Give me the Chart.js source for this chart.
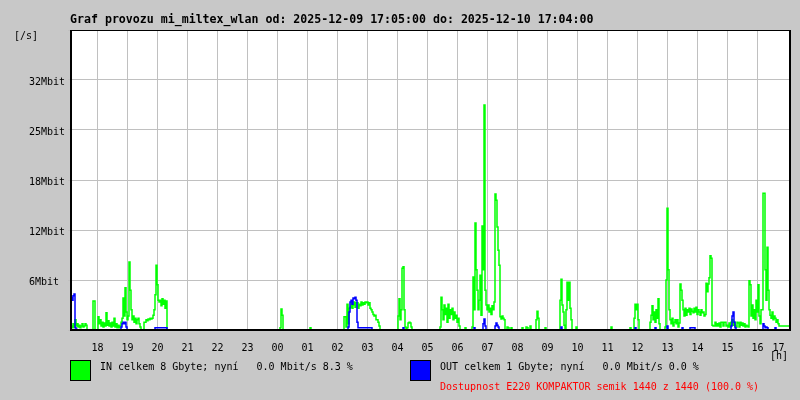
<!DOCTYPE html>
<html>
<head>
<meta charset="utf-8">
<title>Graf provozu mi_miltex_wlan</title>
<script src="https://cdn.jsdelivr.net/npm/chart.js@4.4.1/dist/chart.umd.min.js"></script>
<style>
  body { margin: 0; background: #c8c8c8; }
  canvas { display: block; }
</style>
</head>
<body>
<canvas id="chart" width="800" height="400"></canvas>
<script>
const graphTitle = 'Graf provozu mi_miltex_wlan od: 2025-12-09 17:05:00 do: 2025-12-10 17:04:00';

// x = minutes since 17:05, one sample per 2 minutes
const hourLabels = ['18', '19', '20', '21', '22', '23', '00', '01', '02', '03', '04', '05',
                    '06', '07', '08', '09', '10', '11', '12', '13', '14', '15', '16', '17'];
// last one is only a label (17:00 sits on the right border), pulled a bit left like the original
const hourTicks = [55, 115, 175, 235, 295, 355, 415, 475, 535, 595, 655, 715,
                   775, 835, 895, 955, 1015, 1075, 1135, 1195, 1255, 1315, 1375, 1417];

const yTickValues = [0, 6.4, 12.8, 19.2, 25.6, 32, 38.4];
const yTickLabels = ['', '6Mbit', '12Mbit', '18Mbit', '25Mbit', '32Mbit', ''];

// bursts of traffic: [start minute, Mbit/s every 2 minutes]; zero in between
const inBursts = [
  [0, [0.3, 0.5, 0.3, 0.8, 0.4, 1.3, 0.5, 0.8, 0.4, 0.6, 0.3, 0.5, 0.8, 0.4, 0.5, 0.8, 0.6]],
  [46, [3.7, 3.7]],
  [56, [1.7, 0.8, 1.3, 0.5, 1.0, 0.4, 0.9, 0.5, 2.2, 0.6, 1.2, 0.5, 0.9, 0.4, 1.0, 0.5, 1.5, 0.4, 0.8, 0.3, 0.6, 0.3,
        0.5, 1.0, 1.5, 4.1, 1.8, 5.4, 2.3, 1.3, 1.8, 8.7, 5.1, 2.6, 1.3, 1.8, 1.0, 1.5, 0.8, 1.3, 1.5, 0.8, 0.4]],
  [148, [1.0, 1.0, 1.3, 1.2, 1.4, 1.3, 1.5, 1.4, 1.5, 1.9, 2.6, 4.5, 8.3, 5.8, 3.8, 3.6, 3.8, 3.1, 4.0, 3.3, 3.8, 2.8, 3.7]],
  [420, [0.3, 2.7, 1.9]],
  [480, [0.3]],
  [548, [1.7, 1.7, 0.4, 3.3, 0.8, 2.8, 2.9, 3.5, 2.8, 3.2, 3.6, 2.9, 3.5, 3.5, 2.8, 3.3, 3.1, 3.6,
         3.2, 3.5, 3.3, 3.6, 3.5, 3.6, 3.2, 3.5, 2.8, 2.6, 2.3, 2.0, 1.8, 1.9, 1.3, 1.3, 1.0, 0.5]],
  [656, [1.8, 4.0, 1.3, 2.6, 7.9, 8.1, 2.6, 0.4, 0, 0.3, 0.9, 1.0, 0.9, 0.4]],
  [740, [0.4, 4.2, 2.6, 1.3, 3.2, 2.0, 2.8, 1.0, 3.3, 1.5, 2.6, 2.0, 2.8, 1.3, 2.3, 1.5, 1.9, 1.0, 1.5, 0.5]],
  [790, [0.3]],
  [804, [0.4, 6.8, 2.6, 13.7, 7.7, 5.1, 2.6, 3.8, 7.0, 1.9, 13.3, 7.7, 28.8, 5.1, 3.2, 2.6, 3.2,
         2.3, 2.8, 2.0, 3.1, 2.6, 3.6, 17.4, 16.6, 13.2, 10.2, 8.3, 1.7, 1.4, 1.8, 1.5, 1.3]],
  [874, [0.4, 0.3]],
  [882, [0.3]],
  [904, [0.3]],
  [912, [0.4, 0.3]],
  [920, [0.5]],
  [932, [1.3, 2.4, 1.5]],
  [950, [0.3]],
  [980, [3.8, 6.5, 3.2, 2.3, 0.6, 0, 2.6, 6.1, 3.8, 6.1, 2.8, 1.3]],
  [1012, [0.4]],
  [1082, [0.4]],
  [1120, [0.3]],
  [1128, [1.5, 3.3, 2.6, 3.3, 1.3]],
  [1160, [1.0, 1.9, 3.1, 1.3, 2.3, 1.0, 2.6, 1.5, 4.0, 0.8]],
  [1190, [0.4, 6.4, 15.6, 7.7, 2.6, 1.3, 0.8, 1.5, 0.5, 1.0, 1.3, 0.8, 1.3, 0.4, 0.9, 5.9, 5.1, 3.8, 2.6, 1.8,
          2.8, 1.9, 2.6, 2.3, 2.8, 2.0, 2.7, 2.4, 2.2, 2.8, 2.3, 2.9, 2.0, 2.6, 2.3, 1.9, 2.6, 2.2, 2.3, 1.8,
          2.0, 6.0, 4.9, 5.9, 6.7, 9.5, 9.2, 0.6, 0.5, 0.5, 1.0, 0.5, 0.8, 0.5, 0.9, 0.4, 1.0, 1.0, 0.5, 1.0,
          1.0, 0.5, 0.6, 0.4, 0.9, 0.4, 1.0, 1.3, 0.6, 1.0, 0.5, 0.4, 1.0, 0.9, 0.4, 1.0, 0.6, 0.9, 0.5, 0.8,
          0.4, 0.6, 0.5, 0.4, 6.3, 5.8, 1.8, 3.2, 1.5, 2.6, 1.3, 3.8, 2.3, 5.8, 1.8, 0.8, 2.6, 2.6, 17.5, 17.5,
          7.7, 3.8, 10.6, 5.1, 2.6, 1.9, 1.5, 2.3, 1.3, 1.8, 1.5, 1.0, 1.3, 0.8, 0.5, 0.5, 0.5, 0.5, 0.5, 0.5,
          0.5, 0.5, 0.5, 0.5, 0.5]]
];

const outBursts = [
  [0, [3.8, 4.2, 3.8, 4.4, 4.6, 0.3, 0.1]],
  [102, [0.4, 0.8, 1.0, 0.8, 1.0, 0.4]],
  [170, [0.3, 0.3, 0.3, 0.3, 0.3, 0.3, 0.3, 0.3, 0.3, 0.3, 0.3, 0.3]],
  [556, [0.4, 2.3, 3.6, 3.8, 3.3, 4.1, 4.0, 4.2, 3.8, 1.0, 0.3, 0.3,
         0.3, 0.3, 0.3, 0.3, 0.3, 0.3, 0.3, 0.3, 0.3, 0.3, 0.3, 0.3]],
  [666, [0.3]],
  [808, [0.3]],
  [826, [0.8, 1.4, 0.5]],
  [850, [0.5, 0.9, 0.6, 0.4]],
  [982, [0.4]],
  [1130, [0.3]],
  [1170, [0.3]],
  [1194, [0.5]],
  [1224, [0.3]],
  [1240, [0.3, 0.3, 0.3, 0.3, 0.3]],
  [1322, [0.5, 1.8, 2.3, 1.0, 0.3]],
  [1386, [0.8, 0.5, 0.3, 0.4, 0.3]],
  [1410, [0.3]]
];

const legendIn = 'IN celkem 8 Gbyte; nyní   0.0 Mbit/s 8.3 %';
const legendOut = 'OUT celkem 1 Gbyte; nyní   0.0 Mbit/s 0.0 %';
const availability = 'Dostupnost E220 KOMPAKTOR semik 1440 z 1440 (100.0 %)';

function expand(bursts) {
  const pts = [];
  if (bursts[0][0] > 0) pts.push({ x: 0, y: 0 });
  bursts.forEach(([start, vals]) => {
    vals.forEach((v, i) => pts.push({ x: start + i * 2, y: v }));
    pts.push({ x: start + vals.length * 2, y: 0 });
  });
  if (pts[pts.length - 1].x < 1440) pts.push({ x: 1440, y: 0 });
  return pts;
}

const mono = '"DejaVu Sans Mono", "Liberation Mono", monospace';

const framePlugin = {
  id: 'frame',
  beforeDraw(chart) {
    const { ctx, chartArea: a } = chart;
    ctx.save();
    ctx.fillStyle = '#ffffff';
    ctx.fillRect(a.left, a.top, a.right - a.left, a.bottom - a.top);
    ctx.restore();
  },
  afterDatasetsDraw(chart) {
    const { ctx, chartArea: a } = chart;
    ctx.save();
    ctx.fillStyle = '#000000';
    ctx.fillRect(a.left, a.top, a.right - a.left + 1, 1);
    ctx.fillRect(a.left, a.top, 2, a.bottom - a.top + 1);
    ctx.fillRect(a.left, a.bottom - 1, a.right - a.left + 1, 2);
    ctx.fillRect(a.right - 1, a.top, 2, a.bottom - a.top + 1);
    ctx.restore();
  },
  afterDraw(chart) {
    const ctx = chart.ctx;
    ctx.save();
    ctx.fillStyle = '#000000';
    ctx.textBaseline = 'alphabetic';
    ctx.font = 'bold 11.6px ' + mono;
    ctx.fillText(graphTitle, 70, 23);
    ctx.font = '10px ' + mono;
    ctx.fillText('[/s]', 14, 39);
    ctx.fillText('[h]', 770, 359);

    // legend
    [[70, '#00ff00'], [410, '#0000ff']].forEach(([x, c]) => {
      ctx.fillStyle = c;
      ctx.fillRect(x, 360, 20, 20);
      ctx.strokeStyle = '#000000';
      ctx.lineWidth = 1;
      ctx.strokeRect(x + 0.5, 360.5, 20, 20);
    });
    ctx.fillStyle = '#000000';
    ctx.fillText(legendIn, 100, 370);
    ctx.fillText(legendOut, 440, 370);
    ctx.fillStyle = '#ff0000';
    ctx.fillText(availability, 440, 390);
    ctx.restore();
  }
};

const ctx = document.getElementById('chart').getContext('2d');
const chart = new Chart(ctx, {
  type: 'line',
  data: {
    datasets: [
      { label: 'OUT', data: expand(outBursts), borderColor: '#0000ff', borderWidth: 1.5,
        stepped: 'before', pointRadius: 0, fill: false, order: 0 },
      { label: 'IN', data: expand(inBursts), borderColor: '#00ff00', borderWidth: 1.5,
        stepped: 'before', pointRadius: 0, fill: false, order: 1 }
    ]
  },
  options: {
    responsive: false,
    animation: false,
    devicePixelRatio: 1,
    layout: { padding: { left: 29, top: 30, right: 10, bottom: 0 } },
    plugins: { legend: { display: false }, tooltip: { enabled: false } },
    scales: {
      x: {
        type: 'linear', min: 0, max: 1440,
        afterBuildTicks: s => { s.ticks = hourTicks.map(v => ({ value: v })); },
        afterFit: s => { s.height = 70; },
        grid: {
          color: c => (c.index === hourTicks.length - 1 ? 'rgba(0,0,0,0)' : '#c0c0c0'),
          drawTicks: false
        },
        border: { display: false },
        ticks: {
          autoSkip: false, maxRotation: 0, padding: 12, color: '#000000',
          font: { family: mono, size: 10 },
          callback: (v, i) => hourLabels[i]
        }
      },
      y: {
        min: 0, max: 38.4,
        afterBuildTicks: s => { s.ticks = yTickValues.map(v => ({ value: v })); },
        afterFit: s => { s.width = 41; },
        grid: { color: '#c0c0c0', tickLength: 2 },
        border: { display: false },
        ticks: {
          crossAlign: 'far', labelOffset: 2, color: '#000000',
          font: { family: mono, size: 10 },
          callback: (v, i) => yTickLabels[i]
        }
      }
    }
  },
  plugins: [framePlugin]
});
</script>
</body>
</html>
